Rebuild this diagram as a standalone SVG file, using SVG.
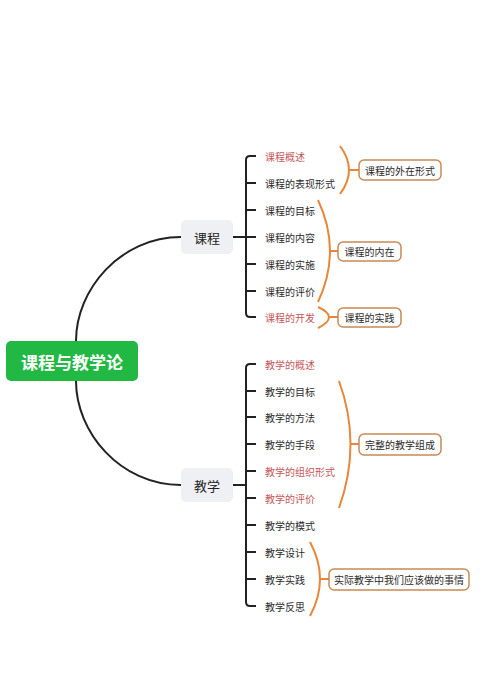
<svg xmlns="http://www.w3.org/2000/svg" width="500" height="682" viewBox="0 0 500 682">
<style>
text{font-family:"Noto Sans CJK SC","Noto Sans",sans-serif;}
.leaf{font-size:10px;fill:#2b2b2b;dominant-baseline:central;}
.red{fill:#c5575a;}
.sub{font-size:13px;fill:#222;text-anchor:middle;dominant-baseline:central;}
.lbl{font-size:10px;fill:#2b2b2b;text-anchor:middle;dominant-baseline:central;}
.conn{fill:none;stroke:#222;stroke-width:2;}
.br{fill:none;stroke:#e8873a;stroke-width:2;}
.box{fill:#fff;stroke:#c98a55;stroke-width:1.5;}
.gray{fill:#eef0f3;}
</style>
<rect width="500" height="682" fill="#fff"/>
<g id="connectors">
<path class="conn" d="M76,341 C76,290 120,237 181,237"/>
<path class="conn" d="M76,381 C76,432 120,485 181,485"/>
<path class="conn" d="M233,237 H246"/>
<path class="conn" d="M256,156 H250 Q246,156 246,160 V313 Q246,317 250,317 H256"/>
<path class="conn" d="M246,183 H256 M246,210 H256 M246,237 H256 M246,264 H256 M246,291 H256"/>
<path class="conn" d="M233,485 H246"/>
<path class="conn" d="M256,364 H250 Q246,364 246,368 V602 Q246,606 250,606 H256"/>
<path class="conn" d="M246,391 H256 M246,417 H256 M246,444 H256 M246,471 H256 M246,498 H256 M246,525 H256 M246,552 H256 M246,579 H256"/>
<path class="br" d="M340,146 Q358,170 340,194 M350,170 H359"/>
<path class="br" d="M318,200 Q342,251 318,302 M330,251 H338"/>
<path class="br" d="M318,307 Q340,317 318,328 M329,317 H338"/>
<path class="br" d="M339,381 Q362,444 339,508 M350,444 H359"/>
<path class="br" d="M310,542 Q330,579 310,616 M320,579 H329"/>
</g>
<g id="root">
<rect x="6" y="341" width="132" height="40" rx="5" fill="#21b844"/>
<text x="72" y="361" font-size="17" font-weight="bold" fill="#fff" text-anchor="middle" dominant-baseline="central">课程与教学论</text>
</g>
<g id="kecheng">
<rect class="gray" x="181" y="220" width="52" height="34" rx="5"/>
<text class="sub" x="207" y="237">课程</text>
</g>
<g id="jiaoxue">
<rect class="gray" x="181" y="468" width="52" height="34" rx="5"/>
<text class="sub" x="207" y="485">教学</text>
</g>
<g id="kc-leaves">
<text class="leaf red" x="265" y="156">课程概述</text>
<text class="leaf" x="265" y="183">课程的表现形式</text>
<text class="leaf" x="265" y="210">课程的目标</text>
<text class="leaf" x="265" y="237">课程的内容</text>
<text class="leaf" x="265" y="264">课程的实施</text>
<text class="leaf" x="265" y="291">课程的评价</text>
<text class="leaf red" x="265" y="317">课程的开发</text>
</g>
<g id="jx-leaves">
<text class="leaf red" x="265" y="364">教学的概述</text>
<text class="leaf" x="265" y="391">教学的目标</text>
<text class="leaf" x="265" y="417">教学的方法</text>
<text class="leaf" x="265" y="444">教学的手段</text>
<text class="leaf red" x="265" y="471">教学的组织形式</text>
<text class="leaf red" x="265" y="498">教学的评价</text>
<text class="leaf" x="265" y="525">教学的模式</text>
<text class="leaf" x="265" y="552">教学设计</text>
<text class="leaf" x="265" y="579">教学实践</text>
<text class="leaf" x="265" y="606">教学反思</text>
</g>
<g id="sum1"><rect class="box" x="359" y="160" width="82" height="20" rx="5"/><text class="lbl" x="400" y="170">课程的外在形式</text></g>
<g id="sum2"><rect class="box" x="338" y="242" width="63" height="19" rx="5"/><text class="lbl" x="369.5" y="251.5">课程的内在</text></g>
<g id="sum3"><rect class="box" x="338" y="308" width="63" height="19" rx="5"/><text class="lbl" x="369.5" y="317.5">课程的实践</text></g>
<g id="sum4"><rect class="box" x="359" y="434" width="82" height="21" rx="5"/><text class="lbl" x="400" y="444.5">完整的教学组成</text></g>
<g id="sum5"><rect class="box" x="329" y="569" width="140" height="21" rx="5"/><text class="lbl" x="399" y="579.5">实际教学中我们应该做的事情</text></g>
</svg>
